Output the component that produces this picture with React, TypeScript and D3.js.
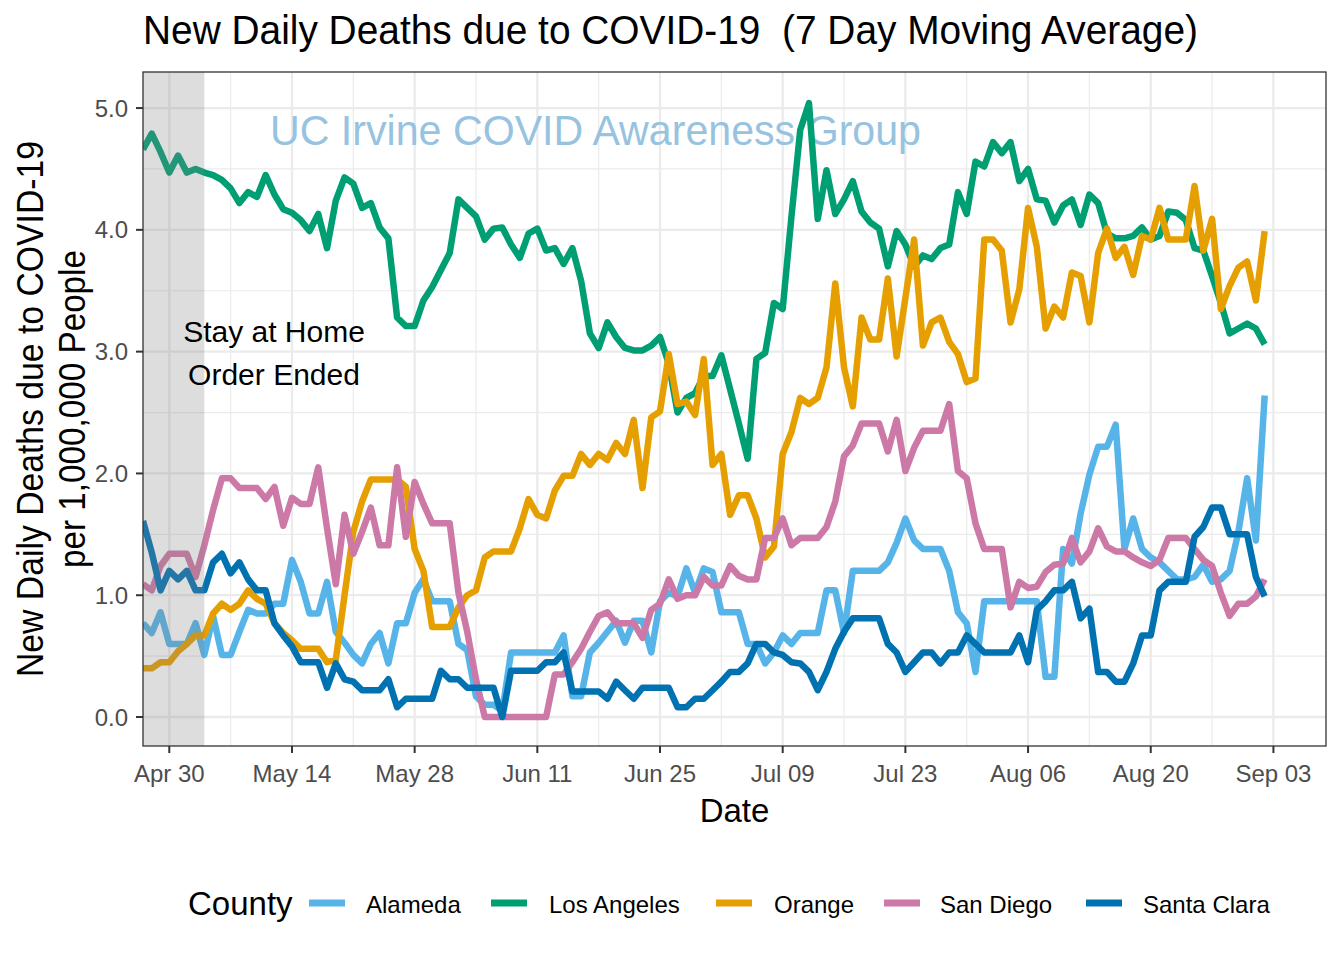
import React from "react";
import * as d3 from "d3";

// ---------- DATA ----------
const startDate = "2020-04-27"; // first day of series, one value per day
const counties = ["Alameda", "Los Angeles", "Orange", "San Diego", "Santa Clara"];
const countyColors = ["#56B4E9", "#009E73", "#E69F00", "#CC79A7", "#0072B2"];

const alameda = [
  0.77, 0.69, 0.86, 0.60, 0.60, 0.60, 0.77, 0.51, 0.83, 0.51, 0.51, 0.70, 0.88, 0.85, 0.85, 0.93, 0.93, 1.29, 1.11, 0.85,
  0.85, 1.11, 0.70, 0.61, 0.51, 0.44, 0.60, 0.69, 0.44, 0.77, 0.77, 1.02, 1.13, 0.95, 0.95, 0.95, 0.60, 0.55, 0.17, 0.10,
  0.10, 0.05, 0.53, 0.53, 0.53, 0.53, 0.53, 0.53, 0.67, 0.17, 0.17, 0.53, 0.61, 0.70, 0.79, 0.61, 0.79, 0.79, 0.53, 0.95,
  1.02, 0.99, 1.22, 1.02, 1.22, 1.19, 0.86, 0.86, 0.86, 0.60, 0.60, 0.44, 0.53, 0.67, 0.60, 0.69, 0.69, 0.69, 1.04, 1.04,
  0.69, 1.20, 1.20, 1.20, 1.20, 1.27, 1.43, 1.63, 1.45, 1.38, 1.38, 1.38, 1.20, 0.86, 0.77, 0.37, 0.95, 0.95, 0.95, 0.95,
  0.95, 0.95, 0.95, 0.33, 0.33, 1.38, 1.26, 1.67, 1.99, 2.22, 2.22, 2.40, 1.38, 1.63, 1.38, 1.31, 1.27, 1.20, 1.13, 1.13,
  1.15, 1.25, 1.11, 1.13, 1.20, 1.52, 1.96, 1.45, 2.64,
];
const losAngeles = [
  4.66, 4.79, 4.64, 4.47, 4.61, 4.47, 4.50, 4.47, 4.45, 4.41, 4.34, 4.22, 4.31, 4.27, 4.45, 4.29, 4.17, 4.14, 4.08, 3.99,
  4.13, 3.85, 4.24, 4.43, 4.38, 4.18, 4.22, 4.02, 3.93, 3.28, 3.21, 3.21, 3.42, 3.53, 3.67, 3.81, 4.25, 4.18, 4.11, 3.92,
  4.01, 4.02, 3.88, 3.77, 3.97, 4.01, 3.83, 3.85, 3.72, 3.85, 3.58, 3.15, 3.03, 3.24, 3.12, 3.03, 3.01, 3.01, 3.05, 3.12,
  2.90, 2.50, 2.62, 2.66, 2.80, 2.80, 2.97, 2.69, 2.41, 2.12, 2.94, 2.99, 3.40, 3.35, 4.11, 4.82, 5.04, 4.09, 4.49, 4.13,
  4.25, 4.40, 4.15, 4.06, 4.01, 3.70, 3.99, 3.88, 3.70, 3.79, 3.76, 3.85, 3.88, 4.31, 4.13, 4.56, 4.52, 4.72, 4.63, 4.72,
  4.40, 4.50, 4.25, 4.24, 4.06, 4.20, 4.25, 4.04, 4.29, 4.22, 3.97, 3.93, 3.93, 3.95, 4.02, 3.92, 3.95, 4.15, 4.14, 4.08,
  3.85, 3.83, 3.62, 3.40, 3.15, 3.19, 3.23, 3.19, 3.06,
];
const orange = [
  0.40, 0.40, 0.45, 0.45, 0.54, 0.60, 0.67, 0.67, 0.85, 0.93, 0.88, 0.93, 1.04, 0.97, 0.93, 0.77, 0.69, 0.63, 0.56, 0.56,
  0.56, 0.45, 0.47, 1.00, 1.52, 1.77, 1.95, 1.95, 1.95, 1.95, 1.89, 1.38, 1.20, 0.74, 0.74, 0.74, 0.90, 1.00, 1.04, 1.31,
  1.36, 1.36, 1.36, 1.55, 1.79, 1.66, 1.63, 1.86, 1.98, 1.98, 2.16, 2.07, 2.16, 2.11, 2.25, 2.16, 2.44, 1.88, 2.46, 2.51,
  2.98, 2.57, 2.59, 2.48, 2.94, 2.07, 2.16, 1.66, 1.82, 1.82, 1.63, 1.31, 1.40, 2.16, 2.34, 2.62, 2.57, 2.62, 2.87, 3.56,
  2.87, 2.55, 3.28, 3.10, 3.10, 3.60, 2.96, 3.44, 3.92, 3.05, 3.24, 3.28, 3.08, 2.98, 2.75, 2.78, 3.92, 3.92, 3.83, 3.24,
  3.51, 4.18, 3.86, 3.19, 3.37, 3.28, 3.65, 3.62, 3.24, 3.81, 4.01, 3.77, 3.86, 3.63, 3.95, 3.92, 4.18, 3.92, 3.92, 3.92,
  4.36, 3.83, 4.09, 3.35, 3.54, 3.69, 3.74, 3.42, 3.99,
];
const sanDiego = [
  1.09, 1.04, 1.24, 1.34, 1.34, 1.34, 1.15, 1.41, 1.70, 1.96, 1.96, 1.88, 1.88, 1.88, 1.79, 1.89, 1.57, 1.80, 1.75, 1.75,
  2.05, 1.55, 1.09, 1.66, 1.34, 1.52, 1.72, 1.41, 1.41, 2.05, 1.48, 1.93, 1.75, 1.59, 1.59, 1.59, 1.02, 0.70, 0.31, 0.00,
  0.00, 0.00, 0.00, 0.00, 0.00, 0.00, 0.00, 0.35, 0.35, 0.45, 0.56, 0.70, 0.83, 0.86, 0.77, 0.77, 0.77, 0.65, 0.88, 0.93,
  1.13, 0.97, 1.00, 1.00, 1.15, 1.08, 1.08, 1.24, 1.16, 1.13, 1.13, 1.47, 1.47, 1.63, 1.41, 1.47, 1.47, 1.47, 1.56, 1.77,
  2.14, 2.23, 2.41, 2.41, 2.41, 2.18, 2.44, 2.02, 2.21, 2.35, 2.35, 2.35, 2.57, 2.02, 1.96, 1.59, 1.38, 1.38, 1.38, 0.90,
  1.11, 1.06, 1.07, 1.19, 1.25, 1.26, 1.47, 1.27, 1.36, 1.55, 1.40, 1.36, 1.36, 1.31, 1.27, 1.24, 1.29, 1.47, 1.47, 1.47,
  1.38, 1.29, 1.24, 1.02, 0.83, 0.93, 0.93, 0.99, 1.13,
];
const santaClara = [
  1.61, 1.35, 1.04, 1.20, 1.13, 1.20, 1.04, 1.04, 1.27, 1.34, 1.18, 1.27, 1.13, 1.04, 1.04, 0.77, 0.67, 0.58, 0.45, 0.45,
  0.45, 0.24, 0.44, 0.31, 0.29, 0.22, 0.22, 0.22, 0.31, 0.08, 0.15, 0.15, 0.15, 0.15, 0.38, 0.31, 0.31, 0.24, 0.24, 0.24,
  0.24, 0.00, 0.38, 0.38, 0.38, 0.38, 0.45, 0.45, 0.53, 0.21, 0.21, 0.21, 0.21, 0.15, 0.29, 0.22, 0.15, 0.24, 0.24, 0.24,
  0.24, 0.08, 0.08, 0.15, 0.15, 0.22, 0.29, 0.37, 0.37, 0.44, 0.60, 0.60, 0.53, 0.51, 0.45, 0.44, 0.37, 0.22, 0.37, 0.56,
  0.70, 0.81, 0.81, 0.81, 0.81, 0.60, 0.53, 0.37, 0.45, 0.53, 0.53, 0.44, 0.53, 0.53, 0.67, 0.60, 0.53, 0.53, 0.53, 0.53,
  0.67, 0.45, 0.88, 0.95, 1.04, 1.04, 1.11, 0.81, 0.89, 0.37, 0.37, 0.29, 0.29, 0.44, 0.67, 0.67, 1.04, 1.11, 1.11, 1.11,
  1.48, 1.56, 1.72, 1.72, 1.50, 1.50, 1.50, 1.15, 0.99,
];
const seriesValues = [alameda, losAngeles, orange, sanDiego, santaClara];

const xTickDates = [
  "2020-04-30", "2020-05-14", "2020-05-28", "2020-06-11", "2020-06-25", "2020-07-09",
  "2020-07-23", "2020-08-06", "2020-08-20", "2020-09-03",
];
const xMinorDates = [
  "2020-05-07", "2020-05-21", "2020-06-04", "2020-06-18", "2020-07-02", "2020-07-16",
  "2020-07-30", "2020-08-13", "2020-08-27",
];
const yTicks = [0, 1, 2, 3, 4, 5];
const yMinor = [0.5, 1.5, 2.5, 3.5, 4.5];
const xDomain = ["2020-04-27", "2020-09-09"];
const yDomain = [-0.238, 5.296];
const stayHomeEnd = "2020-05-04";

const titleText = "New Daily Deaths due to COVID-19  (7 Day Moving Average)";
const watermarkText = "UC Irvine COVID Awareness Group";
const yTitle = ["New Daily Deaths due to COVID-19", "per 1,000,000 People"];
const xTitle = "Date";
const annotationLines = ["Stay at Home", "Order Ended"];
const legendTitle = "County";

// ---------- LAYOUT ----------
const W = 1344;
const H = 960;
const panel = { left: 143, right: 1326, top: 72, bottom: 746 };
const FONT = "'Liberation Sans', Arial, Helvetica, sans-serif";

const parse = d3.utcParse("%Y-%m-%d");

export default function App() {
  const x = d3
    .scaleUtc()
    .domain(xDomain.map((s) => parse(s) as Date))
    .range([panel.left, panel.right]);
  const y = d3.scaleLinear().domain(yDomain).range([panel.bottom, panel.top]);
  const start = parse(startDate) as Date;
  const fmt = d3.utcFormat("%b %d");

  const line = d3
    .line<number>()
    .x((_, i) => x(d3.utcDay.offset(start, i)))
    .y((v) => y(v))
    .curve(d3.curveLinear);

  const legendKeys = [
    { kx: 309, tx: 366 },
    { kx: 491, tx: 549 },
    { kx: 716, tx: 774 },
    { kx: 884, tx: 940 },
    { kx: 1086, tx: 1143 },
  ];

  return (
    <svg
      width={W}
      height={H}
      style={{ position: "absolute", left: 0, top: 0, background: "#fff" }}
      fontFamily={FONT}
    >
      <rect x={0} y={0} width={W} height={H} fill="#fff" />
      <defs>
        <clipPath id="panelClip">
          <rect
            x={panel.left}
            y={panel.top}
            width={panel.right - panel.left}
            height={panel.bottom - panel.top}
          />
        </clipPath>
      </defs>

      {/* grid */}
      <g>
        {xMinorDates.map((d) => (
          <line key={"xm" + d} x1={x(parse(d) as Date)} x2={x(parse(d) as Date)} y1={panel.top} y2={panel.bottom} stroke="#EBEBEB" strokeWidth={1.2} />
        ))}
        {yMinor.map((v) => (
          <line key={"ym" + v} x1={panel.left} x2={panel.right} y1={y(v)} y2={y(v)} stroke="#EBEBEB" strokeWidth={1.2} />
        ))}
        {xTickDates.map((d) => (
          <line key={"xg" + d} x1={x(parse(d) as Date)} x2={x(parse(d) as Date)} y1={panel.top} y2={panel.bottom} stroke="#EBEBEB" strokeWidth={2.3} />
        ))}
        {yTicks.map((v) => (
          <line key={"yg" + v} x1={panel.left} x2={panel.right} y1={y(v)} y2={y(v)} stroke="#EBEBEB" strokeWidth={2.3} />
        ))}
      </g>

      {/* watermark */}
      <text x={270} y={145} fontSize={42} fill="#97C3E1" textLength={651} lengthAdjust="spacingAndGlyphs">
        {watermarkText}
      </text>

      {/* lines */}
      <g clipPath="url(#panelClip)">
        {seriesValues.map((vals, i) => (
          <path
            key={counties[i]}
            d={line(vals) || ""}
            fill="none"
            stroke={countyColors[i]}
            strokeWidth={6.5}
            strokeLinejoin="round"
            strokeLinecap="butt"
          />
        ))}
      </g>

      {/* stay at home shading */}
      <rect
        x={panel.left}
        y={panel.top}
        width={x(parse(stayHomeEnd) as Date) - panel.left}
        height={panel.bottom - panel.top}
        fill="#808080"
        fillOpacity={0.27}
      />

      {/* annotation */}
      {annotationLines.map((t, i) => (
        <text key={t} x={274} y={342 + i * 43} fontSize={30} textAnchor="middle" fill="#000">
          {t}
        </text>
      ))}

      {/* panel border */}
      <rect
        x={panel.left}
        y={panel.top}
        width={panel.right - panel.left}
        height={panel.bottom - panel.top}
        fill="none"
        stroke="#333333"
        strokeWidth={1.3}
      />

      {/* x axis */}
      {xTickDates.map((d) => {
        const px = x(parse(d) as Date);
        return (
          <g key={"xt" + d}>
            <line x1={px} x2={px} y1={panel.bottom} y2={panel.bottom + 7} stroke="#333333" strokeWidth={2} />
            <text x={px} y={782} fontSize={24} textAnchor="middle" fill="#4D4D4D">
              {fmt(parse(d) as Date)}
            </text>
          </g>
        );
      })}

      {/* y axis */}
      {yTicks.map((v) => (
        <g key={"yt" + v}>
          <line x1={panel.left - 7} x2={panel.left} y1={y(v)} y2={y(v)} stroke="#333333" strokeWidth={2} />
          <text x={128} y={y(v) + 8.5} fontSize={24} textAnchor="end" fill="#4D4D4D">
            {v.toFixed(1)}
          </text>
        </g>
      ))}

      {/* axis titles */}
      <text x={(panel.left + panel.right) / 2} y={822} fontSize={33} textAnchor="middle" fill="#000">
        {xTitle}
      </text>
      <text
        transform={`translate(43, ${(panel.top + panel.bottom) / 2}) rotate(-90)`}
        fontSize={36}
        textAnchor="middle"
        fill="#000"
        textLength={536}
        lengthAdjust="spacingAndGlyphs"
      >
        {yTitle[0]}
      </text>
      <text
        transform={`translate(85, ${(panel.top + panel.bottom) / 2}) rotate(-90)`}
        fontSize={36}
        textAnchor="middle"
        fill="#000"
        textLength={318}
        lengthAdjust="spacingAndGlyphs"
      >
        {yTitle[1]}
      </text>

      {/* title */}
      <text x={143} y={44} fontSize={41} fill="#000" textLength={1055} lengthAdjust="spacingAndGlyphs" style={{ whiteSpace: "pre" }}>
        {titleText}
      </text>

      {/* legend */}
      <text x={188} y={915} fontSize={33} fill="#000">
        {legendTitle}
      </text>
      {counties.map((c, i) => (
        <g key={"lg" + c}>
          <line x1={legendKeys[i].kx} x2={legendKeys[i].kx + 36} y1={903} y2={903} stroke={countyColors[i]} strokeWidth={7} />
          <text x={legendKeys[i].tx} y={913} fontSize={24} fill="#000">
            {c}
          </text>
        </g>
      ))}
    </svg>
  );
}
